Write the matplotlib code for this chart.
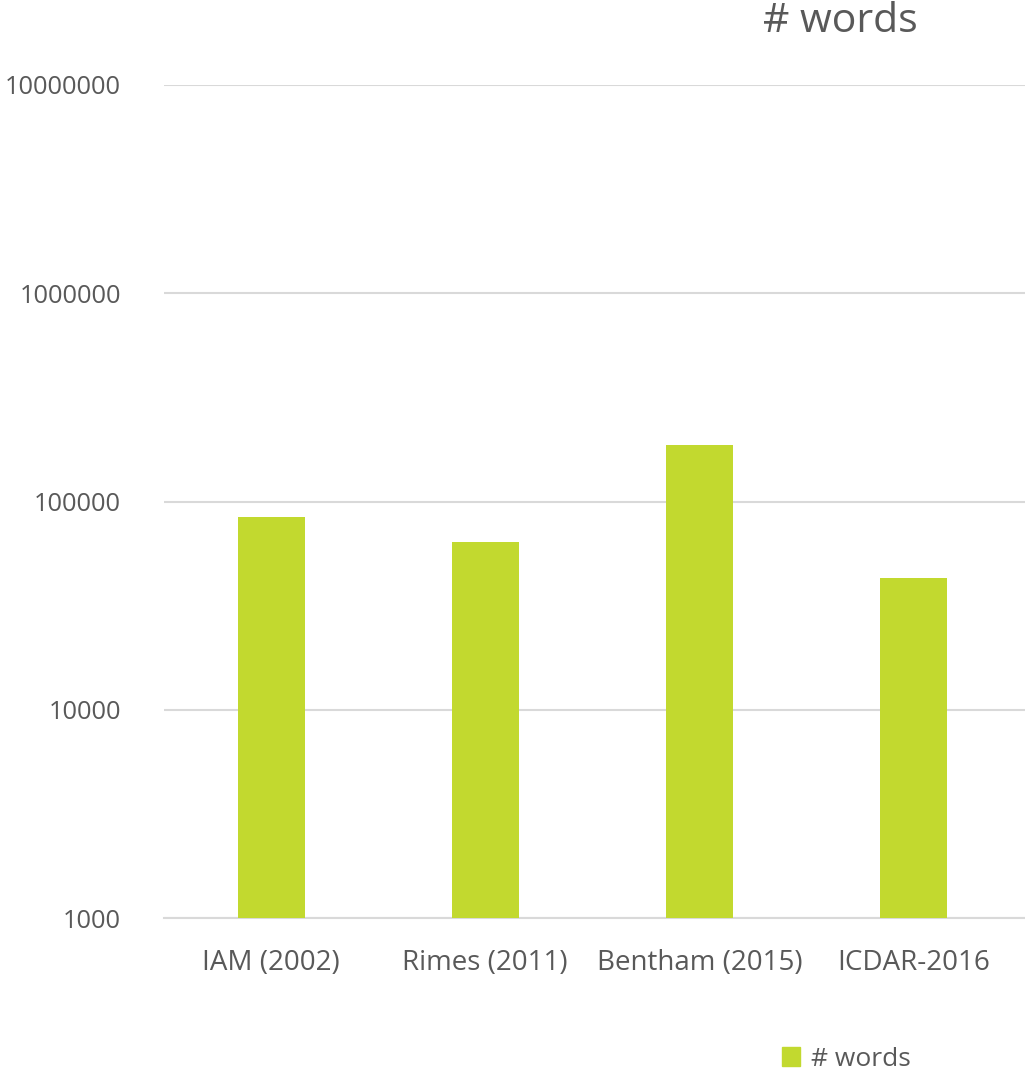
import matplotlib
matplotlib.use("Agg")
import matplotlib.pyplot as plt
from matplotlib.patches import Patch

categories = ["IAM (2002)", "Rimes (2011)", "Bentham (2015)", "ICDAR-2016"]
words = [84000, 64000, 186000, 42700]
yticks = [1000, 10000, 100000, 1000000, 10000000]
ytick_labels = ["1000", "10000", "100000", "1000000", "10000000"]

txt = "#595959"
bar_color = "#C2D92F"
grid = "#D9D9D9"
plt.rcParams["font.family"] = ["Open Sans", "DejaVu Sans"]

fig = plt.figure(figsize=(10.25, 10.77), dpi=100)
ax = fig.add_axes([164/1025, 1 - 918/1077, 1 - 164/1025, (918 - 85)/1077])
x = range(len(categories))
ax.bar(x, words, width=0.313, color=bar_color, zorder=3)
ax.set_yscale("log")
ax.set_ylim(1000, 10000000)
ax.set_xlim(-0.5, 3.52)
ax.set_yticks(yticks)
ax.set_yticklabels(ytick_labels)
ax.yaxis.set_minor_locator(matplotlib.ticker.NullLocator())
ax.set_xticks(list(x))
ax.set_xticklabels(categories)
ax.tick_params(axis="y", length=0, pad=31, labelsize=18.3, labelcolor=txt)
ax.tick_params(axis="x", length=0, pad=22, labelsize=20, labelcolor=txt)
ax.grid(axis="y", color=grid, linewidth=1.5, zorder=0)
for s in ["top", "right", "left"]:
    ax.spines[s].set_visible(False)
ax.spines["bottom"].set_color(grid)
ax.spines["bottom"].set_linewidth(1.5)

fig.text(840/1025, 1 - 22/1077, "# words", ha="center", va="center", fontsize=29.5, color=txt)
fig.legend(handles=[Patch(color=bar_color, label="# words")], loc="center",
           bbox_to_anchor=(846/1025, 1 - 1059/1077), frameon=False, fontsize=19,
           labelcolor=txt, handlelength=0.7, handleheight=0.7, handletextpad=0.4)
fig.savefig("out.png", dpi=100, facecolor="white")
